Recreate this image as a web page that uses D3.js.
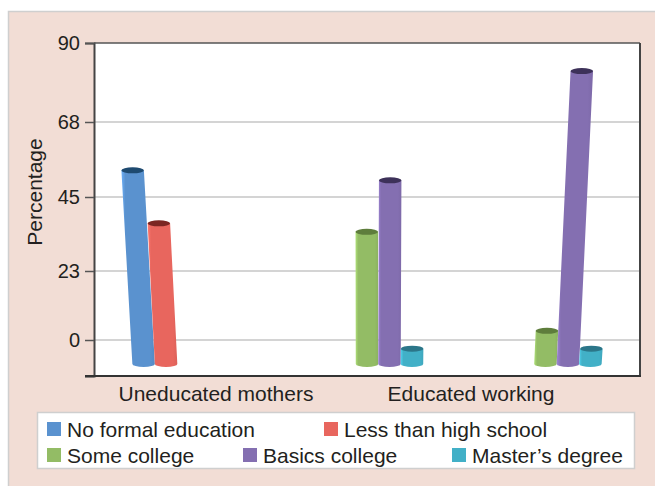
<!DOCTYPE html>
<html>
<head>
<meta charset="utf-8">
<script src="https://cdn.jsdelivr.net/npm/d3@7"></script>
<style>
  html, body { margin: 0; padding: 0; background: #ffffff; }
  svg { display: block; font-family: "Liberation Sans", Arial, sans-serif; }
</style>
</head>
<body>
<svg id="chart" width="655" height="486"></svg>
<script>
// ---- data ----
const groups = ["g1", "g2", "g3"];
const axisLabels = ["Uneducated mothers", "Educated working"];
const series = ["No formal education", "Less than high school", "Some college", "Basics college", "Master\u2019s degree"];
const noFormal     = [53, null, null];
const lessThanHS   = [37, null, null];
const someCollege  = [null, 34.4, 3];
const basicsCollege= [null, 50, 82];
const mastersDeg   = [null, -2.7, -2.7];
const tickValues = [0, 22.5, 45, 67.5, 90];
const tickLabels = ["0", "23", "45", "68", "90"];
const baseValue = -8.4;

const seriesValues = [noFormal, lessThanHS, someCollege, basicsCollege, mastersDeg];
const bodyColors = ["#5a92cf", "#e8665e", "#93bc65", "#846fb1", "#42b0c7"];
const topColors  = ["#1e4a70", "#7b2622", "#5e7d3c", "#3d3159", "#2b7689"];

const svg = d3.select("#chart");
const W = 655, H = 486;
const plot = { left: 94, right: 640, top: 43, bottom: 376 };

// panel
svg.append("rect").attr("x", 0).attr("y", 0).attr("width", W).attr("height", H).attr("fill", "#ffffff");
svg.append("rect").attr("x", 8.5).attr("y", 11.5).attr("width", W).attr("height", H)
  .attr("fill", "#f2ddd5").attr("stroke", "#cfcfcf").attr("stroke-width", 1.5);

// scales
const y = d3.scaleLinear()
  .domain([-11.25, 0, 22.5, 45, 67.5, 90])
  .range([plot.bottom, 340, 271, 197, 122, plot.top]);

const x0 = d3.scaleBand().domain(groups).range([plot.left, plot.right])
  .paddingInner(0.37).paddingOuter(0.215);
const x1 = d3.scaleBand().domain(series).range([0, x0.bandwidth()]);
const xLab = d3.scalePoint().domain(axisLabels).range([216, 471]);

// plot background
svg.append("rect").attr("x", plot.left).attr("y", plot.top)
  .attr("width", plot.right - plot.left).attr("height", plot.bottom - plot.top)
  .attr("fill", "#ffffff");

// gridlines
svg.append("g").selectAll("line").data(tickValues.slice(0, 4)).join("line")
  .attr("x1", plot.left).attr("x2", plot.right)
  .attr("y1", d => y(d)).attr("y2", d => y(d))
  .attr("stroke", "#c6c6c6").attr("stroke-width", 1.5);

// y axis
const yAxis = d3.axisLeft(y).tickValues([-11.25].concat(tickValues))
  .tickSize(9).tickPadding(5)
  .tickFormat(d => { const i = tickValues.indexOf(d); return i >= 0 ? tickLabels[i] : ""; });
const gy = svg.append("g").attr("transform", `translate(${plot.left},0)`).call(yAxis);
gy.select(".domain").attr("stroke", "#444").attr("stroke-width", 2);
gy.selectAll(".tick line").attr("stroke", "#555").attr("stroke-width", 1.5);
gy.selectAll(".tick text").attr("font-size", 20).attr("fill", "#231f20")
  .attr("font-family", "Liberation Sans, Arial, sans-serif");

// frame top/right/bottom
svg.append("line").attr("x1", plot.left).attr("x2", plot.right).attr("y1", plot.top).attr("y2", plot.top)
  .attr("stroke", "#555").attr("stroke-width", 1.5);
svg.append("line").attr("x1", plot.right).attr("x2", plot.right).attr("y1", plot.top).attr("y2", plot.bottom)
  .attr("stroke", "#444").attr("stroke-width", 2);

// gradients
const defs = svg.append("defs");
bodyColors.forEach((c, i) => {
  const g = defs.append("linearGradient").attr("id", "grad" + i)
    .attr("x1", "0%").attr("x2", "100%").attr("y1", "0%").attr("y2", "0%");
  const base = d3.color(c);
  g.append("stop").attr("offset", "0%").attr("stop-color", base.brighter(0.5));
  g.append("stop").attr("offset", "12%").attr("stop-color", c);
  g.append("stop").attr("offset", "85%").attr("stop-color", c);
  g.append("stop").attr("offset", "100%").attr("stop-color", base.darker(0.15));
});

// bars (cylinders with slight perspective tilt)
const vanishX = 374, depth = 4130;
const bars = [];
groups.forEach((g, gi) => {
  series.forEach((s, si) => {
    const v = seriesValues[si][gi];
    if (v !== null && v !== undefined) bars.push({ g, s, si, v });
  });
});
const ry = 3;
const gb = svg.append("g");
bars.forEach(d => {
  const w = x1.bandwidth();
  const bx = x0(d.g) + x1(d.s);
  const yb = y(baseValue), yt = y(d.v);
  const shift = (bx + w / 2 - vanishX) * (yb - yt) / depth;
  const tx = bx + shift;
  const rx = w / 2;
  const p = d3.path();
  p.moveTo(tx, yt);
  p.lineTo(tx + w, yt);
  p.lineTo(bx + w, yb - ry);
  // bottom half-ellipse
  const body = `M${tx},${yt} L${tx + w},${yt} L${bx + w},${yb - ry} A${rx},${ry} 0 0 1 ${bx},${yb - ry} Z`;
  gb.append("path").attr("d", body).attr("fill", `url(#grad${d.si})`);
  gb.append("ellipse").attr("cx", tx + rx).attr("cy", yt).attr("rx", rx).attr("ry", ry)
    .attr("fill", topColors[d.si]);
});

// bottom axis line (drawn over bars' base)
svg.append("line").attr("x1", plot.left - 9).attr("x2", plot.right + 1).attr("y1", plot.bottom).attr("y2", plot.bottom)
  .attr("stroke", "#333").attr("stroke-width", 2);

// category labels
svg.append("g").selectAll("text").data(axisLabels).join("text")
  .attr("x", d => xLab(d)).attr("y", 401)
  .attr("text-anchor", "middle").attr("font-size", 21).attr("fill", "#231f20")
  .text(d => d);

// y title
svg.append("text").attr("transform", "translate(42,192) rotate(-90)")
  .attr("text-anchor", "middle").attr("font-size", 21).attr("fill", "#231f20")
  .text("Percentage");

// legend
svg.append("rect").attr("x", 37.5).attr("y", 412.5).attr("width", 597).attr("height", 56)
  .attr("fill", "#ffffff").attr("stroke", "#cfcfcf").attr("stroke-width", 1.5);
const legendPos = [[47, 422], [324, 422], [47, 448], [243, 448], [452, 448]];
const lg = svg.append("g").selectAll("g").data(series).join("g")
  .attr("transform", (d, i) => `translate(${legendPos[i][0]},${legendPos[i][1]})`);
lg.append("rect").attr("width", 14).attr("height", 14).attr("fill", (d, i) => bodyColors[i]);
lg.append("text").attr("x", 20).attr("y", 15).attr("font-size", 21).attr("fill", "#231f20").text(d => d);
</script>
</body>
</html>
